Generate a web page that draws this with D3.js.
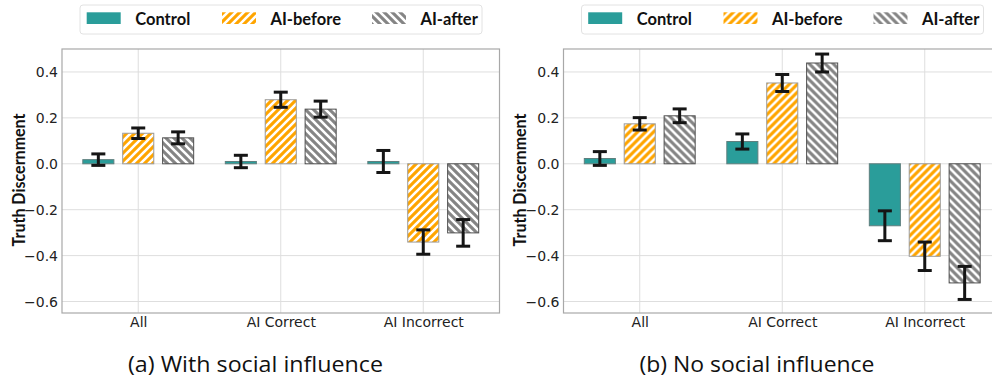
<!DOCTYPE html>
<html>
<head>
<meta charset="utf-8">
<script src="https://cdn.jsdelivr.net/npm/d3@7"></script>
<style>
  html, body { margin: 0; padding: 0; background: #fff; }
  svg { display: block; }
</style>
</head>
<body>
<svg id="chart" width="992" height="379"></svg>
<script>
// ---------- data ----------
const categories = ["All", "AI Correct", "AI Incorrect"];
const seriesNames = ["Control", "AI-before", "AI-after"];
const yTicks = [-0.6, -0.4, -0.2, 0.0, 0.2, 0.4];

// (a) With social influence
const withControl   = [0.018, 0.010, 0.010];
const withBefore    = [0.133, 0.279, -0.341];
const withAfter     = [0.113, 0.238, -0.301];
const withControlErr = [0.025, 0.027, 0.048];
const withBeforeErr  = [0.023, 0.033, 0.053];
const withAfterErr   = [0.026, 0.035, 0.058];

// (b) No social influence
const noControl   = [0.023, 0.097, -0.270];
const noBefore    = [0.174, 0.352, -0.403];
const noAfter     = [0.209, 0.439, -0.519];
const noControlErr = [0.030, 0.033, 0.065];
const noBeforeErr  = [0.027, 0.037, 0.062];
const noAfterErr   = [0.030, 0.039, 0.072];

const captions = ["(a) With social influence", "(b) No social influence"];

// ---------- drawing ----------
const svg = d3.select("#chart");
const defs = svg.append("defs");

function hatch(id, bg, dir) {
  const p = defs.append("pattern").attr("id", id)
    .attr("patternUnits", "userSpaceOnUse").attr("width", 8).attr("height", 8);
  p.append("rect").attr("width", 8).attr("height", 8).attr("fill", bg);
  const d = dir === "/" ? "M-2,2 L2,-2 M0,8 L8,0 M6,10 L10,6"
                        : "M-2,6 L2,10 M0,0 L8,8 M6,-2 L10,2";
  p.append("path").attr("d", d).attr("stroke", "#fff").attr("stroke-width", 2.6);
}
hatch("hatchOrange", "#ffa500", "/");
hatch("hatchGray", "#858585", "\\");

const fills = ["#2a9d9a", "url(#hatchOrange)", "url(#hatchGray)"];
const strokes = ["#5f7f7e", "#9a9a9a", "#505050"];

const panels = [
  { dx: 0,     vals: [withControl, withBefore, withAfter], errs: [withControlErr, withBeforeErr, withAfterErr] },
  { dx: 501.5, vals: [noControl, noBefore, noAfter],       errs: [noControlErr, noBeforeErr, noAfterErr] }
];

const y = d3.scaleLinear().domain([-0.65, 0.5]).range([313, 49]);

panels.forEach((pn, pi) => {
  const g = svg.append("g").attr("transform", `translate(${pn.dx},0)`);
  const x = d3.scaleLinear().domain([-0.535, 2.535]).range([62, 499.5]);
  const xL = x.range()[0], xR = x.range()[1];

  // grid
  g.append("g").selectAll("line").data(yTicks).join("line")
    .attr("x1", xL).attr("x2", xR).attr("y1", d => y(d)).attr("y2", d => y(d))
    .attr("stroke", "#dedede").attr("stroke-width", 1);
  g.append("g").selectAll("line").data(categories).join("line")
    .attr("x1", (d, i) => x(i)).attr("x2", (d, i) => x(i)).attr("y1", 49).attr("y2", 313)
    .attr("stroke", "#dedede").attr("stroke-width", 1);

  // axes via d3
  const yAxis = d3.axisLeft(y).tickValues(yTicks).tickSize(0).tickPadding(4)
    .tickFormat(d3.format(".1f"));
  const ya = g.append("g").attr("transform", `translate(${xL},0)`).call(yAxis);
  ya.select(".domain").remove();
  ya.selectAll("text").attr("font-family", "DejaVu Sans").attr("font-size", 14).attr("fill", "#222");

  const xAxis = d3.axisBottom(x).tickValues([0, 1, 2]).tickSize(0).tickPadding(4)
    .tickFormat(i => categories[i]);
  const xa = g.append("g").attr("transform", `translate(0,313)`).call(xAxis);
  xa.select(".domain").remove();
  xa.selectAll("text").attr("font-family", "DejaVu Sans").attr("font-size", 14).attr("fill", "#222");

  // bars
  const offsets = [-0.28, 0, 0.28];
  const bw = 0.218;
  pn.vals.forEach((arr, si) => {
    const bg = g.append("g");
    bg.selectAll("rect").data(arr).join("rect")
      .attr("x", (d, i) => x(i + offsets[si] - bw / 2))
      .attr("width", x(bw) - x(0))
      .attr("y", d => Math.min(y(d), y(0)))
      .attr("height", d => Math.abs(y(d) - y(0)))
      .attr("fill", fills[si]).attr("stroke", strokes[si]).attr("stroke-width", 1);
  });
  // error bars
  pn.vals.forEach((arr, si) => {
    const eg = g.append("g").attr("stroke", "#151515").attr("stroke-width", 3);
    arr.forEach((v, i) => {
      const cx = x(i + offsets[si]);
      const e = pn.errs[si][i];
      eg.append("line").attr("x1", cx).attr("x2", cx).attr("y1", y(v + e)).attr("y2", y(v - e));
      [v + e, v - e].forEach(t => eg.append("line")
        .attr("x1", cx - 7).attr("x2", cx + 7).attr("y1", y(t)).attr("y2", y(t)));
    });
  });

  // frame
  g.append("rect").attr("x", xL).attr("y", 49).attr("width", xR - xL).attr("height", 264)
    .attr("fill", "none").attr("stroke", "#a8a8a8").attr("stroke-width", 1.2);

  // y label
  g.append("text").attr("transform", "translate(24.5,180) rotate(-90)")
    .attr("text-anchor", "middle").attr("font-family", "Lato").attr("font-weight", "bold")
    .attr("font-size", 16.5).attr("fill", "#111")
    .attr("textLength", 133).attr("lengthAdjust", "spacingAndGlyphs")
    .text("Truth Discernment");

  // legend
  const lg = g.append("g");
  lg.append("rect").attr("x", 80).attr("y", 5).attr("width", 402).attr("height", 29).attr("rx", 3)
    .attr("fill", "#fff").attr("stroke", "#e2e2e2");
  const lx = [86.7, 222, 372];
  seriesNames.forEach((s, si) => {
    lg.append("rect").attr("x", lx[si]).attr("y", 12.3).attr("width", 34).attr("height", 11.7)
      .attr("fill", fills[si]);
    lg.append("text").attr("x", lx[si] + 48.5).attr("y", 24.5).attr("font-family", "Lato")
      .attr("font-weight", "bold").attr("font-size", 16.5).attr("fill", "#111").text(s);
  });

  // caption
  g.append("text").attr("x", 255.5).attr("y", 371.5).attr("text-anchor", "middle")
    .attr("font-family", "Open Sans").attr("font-size", 21).attr("fill", "#111")
    .attr("textLength", pi === 0 ? 255 : 235).attr("lengthAdjust", "spacingAndGlyphs")
    .text(captions[pi]);
});
</script>
</body>
</html>
